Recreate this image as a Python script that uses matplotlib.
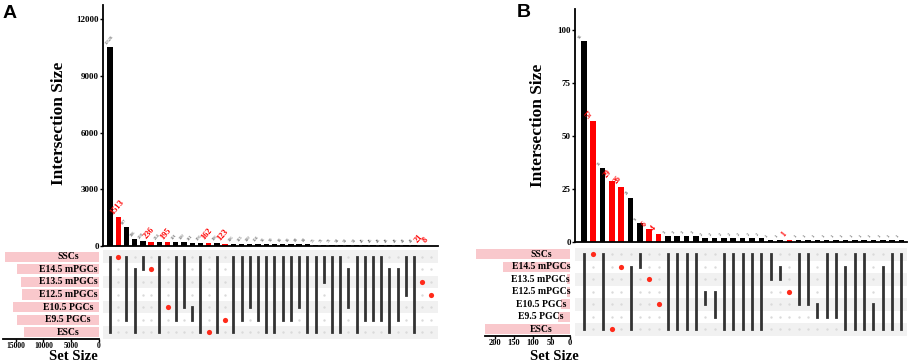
import matplotlib
matplotlib.use("Agg")
import matplotlib.pyplot as plt

plt.rcParams["font.family"] = ["Liberation Serif", "DejaVu Serif"]
plt.rcParams["font.weight"] = "bold"

sets = ["SSCs", "E14.5 mPGCs", "E13.5 mPGCs", "E12.5 mPGCs", "E10.5 PGCs", "E9.5 PGCs", "ESCs"]

# panel A: intersection sizes, first/last set of each intersection, set sizes
a_counts = [10526, 1513, 987, 386, 258, 236, 224, 195, 191, 190, 181, 176, 162, 136, 123,
            116, 113, 110, 104, 95, 90, 86, 86, 83, 81, 75, 73, 73, 54, 51, 51, 45, 45,
            43, 43, 43, 41, 41, 21, 8]
a_spans = [(0, 6), (0, 0), (0, 5), (1, 6), (0, 1), (1, 1), (0, 6), (4, 4), (0, 5), (0, 4),
           (4, 5), (0, 6), (6, 6), (0, 6), (5, 5), (0, 6), (0, 5), (0, 4), (0, 5), (0, 6),
           (0, 6), (0, 5), (0, 5), (0, 4), (0, 6), (0, 6), (0, 2), (0, 6), (0, 6), (1, 4),
           (0, 6), (0, 5), (0, 5), (0, 5), (1, 6), (1, 5), (0, 3), (0, 6), (2, 2), (3, 3)]
a_sizes = [16930, 14820, 14100, 13900, 15420, 14700, 13500]
a_yticks = [0, 3000, 6000, 9000, 12000]
a_set_ticks = [15000, 10000, 5000, 0]

# panel B
b_counts = [95, 57, 35, 29, 26, 21, 9, 6, 4, 3, 3, 3, 3, 2, 2, 2, 2, 2, 2, 2,
            1, 1, 1, 1, 1, 1, 1, 1, 1, 1, 1, 1, 1, 1, 1]
b_spans = [(0, 6), (0, 0), (0, 6), (6, 6), (1, 1), (1, 6), (0, 1), (2, 2), (4, 4), (0, 6),
           (0, 6), (0, 6), (0, 6), (3, 4), (3, 5), (0, 6), (0, 6), (0, 6), (0, 6), (0, 6),
           (0, 2), (1, 2), (3, 3), (0, 4), (0, 4), (4, 5), (0, 5), (0, 5), (1, 6), (0, 6),
           (0, 6), (4, 6), (1, 6), (0, 6), (0, 6)]
b_sizes = [250, 180, 8, 8, 25, 32, 228]
b_yticks = [0, 25, 50, 75, 100]
b_set_ticks = [200, 150, 100, 50, 0]

W, H = 913, 361
fig = plt.figure(figsize=(W / 100, H / 100), dpi=100)


def box(l, r, t, b):
    return [l / W, 1 - b / H, (r - l) / W, (b - t) / H]


def panel(counts, spans, sizes, yticks, set_ticks, g, big_fs, small_fs, set_tick_fs):
    n = len(counts)
    red = [s[0] == s[1] for s in spans]
    cols = ["#ff0000" if r else "#000000" for r in red]

    ax = fig.add_axes(box(*g["bar"]))
    ax.bar(range(n), counts, width=g["bw"], color=cols)
    ax.set_xlim(*g["xlim"])
    ax.set_ylim(0, g["ytop"])
    ax.set_xticks([])
    ax.set_yticks(yticks)
    ax.tick_params(axis="y", length=2, width=1, pad=1, labelsize=6.5)
    for s in ["top", "right"]:
        ax.spines[s].set_visible(False)
    for s in ["left", "bottom"]:
        ax.spines[s].set_linewidth(1.3)
    ax.set_ylabel("Intersection Size", fontsize=12.5, fontweight="bold")
    ax.yaxis.set_label_coords(*g["ylab"])
    for i, v in enumerate(counts):
        if red[i]:
            ax.annotate(str(v), (i - 0.35, v), xytext=(0, 1), textcoords="offset points",
                        rotation=50, rotation_mode="anchor", ha="left", va="bottom",
                        fontsize=big_fs, color="#ff0000", fontweight="bold")
        else:
            ax.annotate(str(v), (i - 0.3, v), xytext=(0, 1), textcoords="offset points",
                        rotation=50, rotation_mode="anchor", ha="left", va="bottom",
                        fontsize=small_fs, color="#333333", fontweight="normal")

    m = fig.add_axes(box(*g["mat"]))
    m.set_xlim(*g["xlim"])
    m.set_ylim(6.5, -0.5)
    m.axis("off")
    for r in range(0, 7, 2):
        m.axhspan(r - 0.5, r + 0.5, color="#f1f1f1", lw=0, zorder=0)
    for i, (a, b) in enumerate(spans):
        for r in range(7):
            if r < a or r > b:
                m.scatter(i, r, s=3, color="#dadada", lw=0, zorder=1)
        if a == b:
            m.scatter(i, a, s=14, color="#ff2a1a", lw=0, zorder=3)
        else:
            m.plot([i, i], [a, b], color="#333333", lw=2.0, solid_capstyle="projecting", zorder=2)

    s = fig.add_axes(box(*g["set"]))
    s.barh(range(7), sizes, height=0.8, color="#f9c8cc", clip_on=False, zorder=1)
    s.set_xlim(*g["setlim"])
    s.set_ylim(6.5, -0.5)
    s.set_yticks([])
    s.set_xticks(set_ticks)
    s.tick_params(axis="x", length=2, width=1, pad=0.5, labelsize=set_tick_fs)
    for sp in ["top", "right", "left"]:
        s.spines[sp].set_visible(False)
    s.spines["bottom"].set_linewidth(1.3)
    for r, name in enumerate(sets):
        s.text(g["labx"], r, name, ha="center", va="center", fontsize=7,
               fontweight="bold", zorder=3)
    s.set_xlabel("Set Size", fontsize=10.5, fontweight="bold")
    s.xaxis.set_label_coords(*g["xlab"])


ga = dict(bar=(103, 438, 5, 246), mat=(103, 438, 250.4, 338.6), set=(3, 98.7, 250.4, 338.6),
          bw=0.65, xlim=(-0.85, 39.9), ytop=12750, setlim=(17300, 0), labx=5550,
          ylab=(-0.107, 0.51), xlab=(0.74, -0.125))
gb = dict(bar=(575, 907, 9, 242), mat=(575, 907, 248, 335.6), set=(485, 570, 248, 335.6),
          bw=0.6, xlim=(-0.95, 34.6), ytop=110, setlim=(227, 0), labx=78,
          ylab=(-0.087, 0.5), xlab=(0.82, -0.16))

panel(a_counts, a_spans, a_sizes, a_yticks, a_set_ticks, ga, 6, 3.2, 5.5)
panel(b_counts, b_spans, b_sizes, b_yticks, b_set_ticks, gb, 5.5, 3.2, 6)

fig.text(3 / W, 1 - 5 / H, "A", ha="left", va="top", fontsize=14,
         fontweight="bold", family="Liberation Sans")
fig.text(517 / W, 1 - 4 / H, "B", ha="left", va="top", fontsize=14,
         fontweight="bold", family="Liberation Sans")

fig.savefig("out.png", dpi=100)
